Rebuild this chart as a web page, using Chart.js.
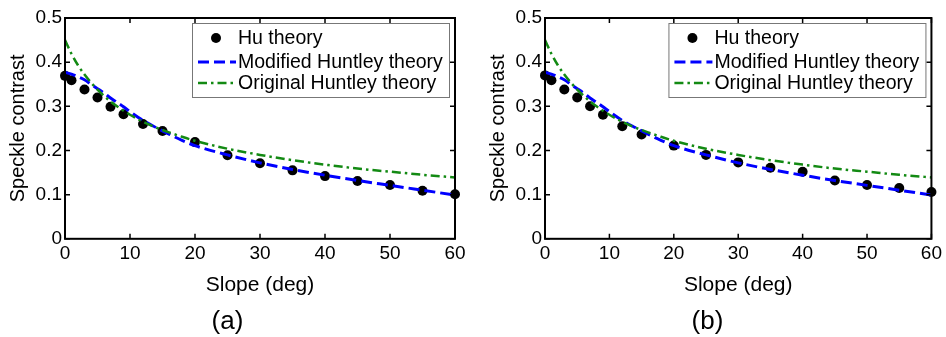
<!DOCTYPE html>
<html>
<head>
<meta charset="utf-8">
<script src="https://cdn.jsdelivr.net/npm/chart.js@4.4.0/dist/chart.umd.min.js"></script>
<style>
  body { margin: 0; background: #fff; }
  #wrap { position: relative; width: 946px; height: 337px; }
  #chartA { position: absolute; left: 0; top: 0; }
  #chartB { position: absolute; left: 480px; top: 0; }
</style>
</head>
<body>
<div id="wrap">
  <canvas id="chartA" width="473" height="337"></canvas>
  <canvas id="chartB" width="466" height="337"></canvas>
</div>
<script>
// slope angles of the Hu theory points
const slope = [0, 1, 3, 5, 7, 9, 12, 15, 20, 25, 30, 35, 40, 45, 50, 55, 60]
const huA = [0.369, 0.359, 0.338, 0.320, 0.299, 0.282, 0.260, 0.244, 0.219, 0.189, 0.171, 0.155, 0.142, 0.131, 0.122, 0.109, 0.101]
const huB = [0.370, 0.359, 0.338, 0.320, 0.300, 0.281, 0.255, 0.236, 0.211, 0.190, 0.173, 0.161, 0.152, 0.132, 0.122, 0.115, 0.106]

// sample points
const curveX = [0, 1, 2, 3, 4, 5, 6, 7, 8, 9, 10, 12, 14, 16, 18, 20, 25, 30, 35, 40, 45, 50, 55, 60]
const modified = [0.377, 0.373, 0.367, 0.360, 0.350, 0.340, 0.330, 0.319, 0.309, 0.299, 0.288, 0.268, 0.252, 0.237, 0.223, 0.211, 0.190, 0.172, 0.157, 0.144, 0.132, 0.121, 0.110, 0.099]
const original = [0.450, 0.419, 0.393, 0.372, 0.354, 0.338, 0.324, 0.311, 0.300, 0.290, 0.281, 0.265, 0.252, 0.241, 0.231, 0.222, 0.204, 0.190, 0.178, 0.168, 0.159, 0.152, 0.145, 0.139]

const xTicks = [0, 10, 20, 30, 40, 50, 60]
const yTicks = [0, 0.1, 0.2, 0.3, 0.4, 0.5]

const pts = (xs, ys) => xs.map((x, i) => ({ x: x, y: ys[i] }))

const family = '"Liberation Sans", Arial, sans-serif'
const font = (size) => ({ family: family, size: size, weight: 'normal' })

// matlab style box with inward ticks
const frame = {
  id: 'frame',
  afterDatasetsDraw(chart) {
    const { ctx, chartArea: a, scales } = chart
    ctx.save()
    ctx.strokeStyle = '#000'
    ctx.lineWidth = 1.5
    ctx.beginPath()
    xTicks.forEach(v => {
      const px = scales.x.getPixelForValue(v)
      ctx.moveTo(px, a.bottom); ctx.lineTo(px, a.bottom - 5)
      ctx.moveTo(px, a.top); ctx.lineTo(px, a.top + 5)
    })
    yTicks.forEach(v => {
      const py = scales.y.getPixelForValue(v)
      ctx.moveTo(a.left, py); ctx.lineTo(a.left + 5, py)
      ctx.moveTo(a.right, py); ctx.lineTo(a.right - 5, py)
    })
    ctx.stroke()
    ctx.lineWidth = 2
    ctx.strokeRect(a.left, a.top, a.right - a.left, a.bottom - a.top)
    ctx.restore()
  }
}

const boxLegend = {
  id: 'boxLegend',
  afterDraw(chart) {
    const { ctx, chartArea: a } = chart
    const w = 257, h = 74
    const x0 = a.right - 6 - w, y0 = a.top + 5
    ctx.save()
    ctx.fillStyle = '#fff'
    ctx.fillRect(x0, y0, w, h)
    ctx.strokeStyle = '#777'
    ctx.lineWidth = 1
    ctx.strokeRect(x0 + 0.5, y0 + 0.5, w, h)
    const rows = [15, 39, 60]
    chart.data.datasets.forEach((ds, i) => {
      const cy = y0 + rows[i]
      if (ds.showLine) {
        ctx.strokeStyle = ds.borderColor
        ctx.lineWidth = ds.borderWidth
        ctx.setLineDash(ds.borderDash)
        ctx.beginPath()
        ctx.moveTo(x0 + 6, cy); ctx.lineTo(x0 + 44, cy)
        ctx.stroke()
        ctx.setLineDash([])
      } else {
        ctx.fillStyle = '#000'
        ctx.beginPath()
        ctx.arc(x0 + 24, cy, 5, 0, Math.PI * 2)
        ctx.fill()
      }
      ctx.fillStyle = '#000'
      ctx.font = '19.5px ' + family
      ctx.textBaseline = 'middle'
      ctx.fillText(ds.label, x0 + 46, cy + 1)
    })
    ctx.restore()
  }
}

const makeChart = (id, hu, tag, padRight) => new Chart(document.getElementById(id), {
  type: 'scatter',
  data: {
    datasets: [
      { label: 'Hu theory', data: pts(slope, hu), showLine: false, pointRadius: 5,
        backgroundColor: '#000', borderColor: '#000', borderWidth: 0, order: 3, clip: false },
      { label: 'Modified Huntley theory', data: pts(curveX, modified), showLine: true,
        borderColor: '#0000ff', borderWidth: 3, borderDash: [11, 5], pointRadius: 0,
        cubicInterpolationMode: 'monotone', order: 2 },
      { label: 'Original Huntley theory', data: pts(curveX, original), showLine: true,
        borderColor: '#138a13', borderWidth: 2.5, borderDash: [9, 4, 2.5, 4], pointRadius: 0,
        cubicInterpolationMode: 'monotone', order: 1 }
    ]
  },
  options: {
    responsive: false,
    animation: false,
    layout: { padding: { top: 18, right: padRight, left: 0, bottom: 0 } },
    plugins: {
      legend: { display: false },
      tooltip: { enabled: false },
      title: { display: true, text: tag, position: 'bottom', color: '#000', font: font(26), padding: { top: 0, bottom: 0 } }
    },
    scales: {
      x: {
        type: 'linear', min: 0, max: 60,
        afterBuildTicks: s => { s.ticks = xTicks.map(v => ({ value: v })) },
        ticks: { color: '#000', font: font(19), padding: 4, maxRotation: 0 },
        grid: { display: false, drawTicks: false, tickLength: 0 },
        border: { display: false },
        title: { display: true, text: 'Slope (deg)', color: '#000', font: font(21), padding: { top: 8, bottom: 8 } },
        afterFit: s => { s.height = 67 }
      },
      y: {
        min: 0, max: 0.5,
        afterBuildTicks: s => { s.ticks = yTicks.map(v => ({ value: v })) },
        ticks: { color: '#000', font: font(19), padding: 3 },
        grid: { display: false, drawTicks: false, tickLength: 0 },
        border: { display: false },
        title: { display: true, text: 'Speckle contrast', color: '#000', font: font(20), padding: { top: 6, bottom: 6 } },
        afterFit: s => { s.width = 65 }
      }
    }
  },
  plugins: [frame, boxLegend]
})

makeChart('chartA', huA, '(a)', 18)
makeChart('chartB', huB, '(b)', 11)
</script>
</body>
</html>
